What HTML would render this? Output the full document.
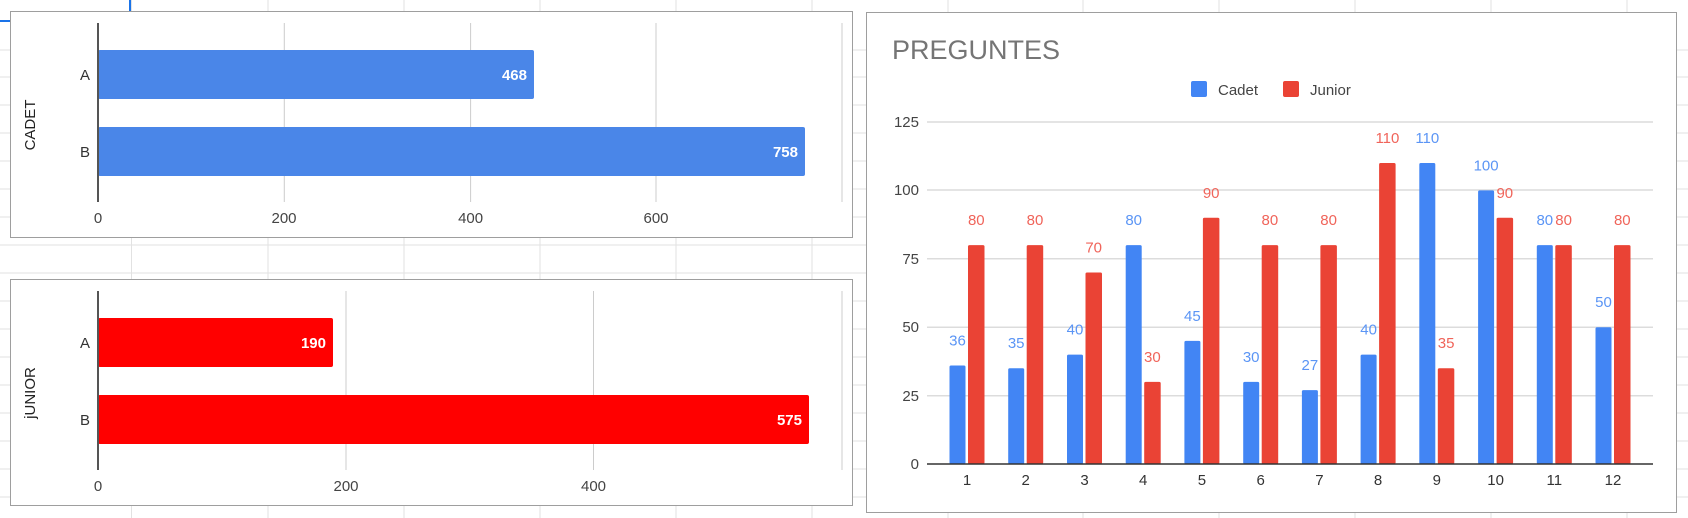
<!DOCTYPE html>
<html><head><meta charset="utf-8"><style>
html,body{margin:0;padding:0;background:#fff;}
svg{display:block;font-family:"Liberation Sans",Arial,sans-serif;}
</style></head><body>
<svg width="1688" height="518" viewBox="0 0 1688 518" xmlns="http://www.w3.org/2000/svg">
<g stroke="#e2e2e2" stroke-width="1">
<line x1="131.5" y1="0" x2="131.5" y2="518"/><line x1="268" y1="0" x2="268" y2="518"/><line x1="404" y1="0" x2="404" y2="518"/><line x1="540" y1="0" x2="540" y2="518"/><line x1="676" y1="0" x2="676" y2="518"/><line x1="812" y1="0" x2="812" y2="518"/>
<line x1="948" y1="0" x2="948" y2="518"/><line x1="1083" y1="0" x2="1083" y2="518"/><line x1="1219" y1="0" x2="1219" y2="518"/><line x1="1355" y1="0" x2="1355" y2="518"/><line x1="1491" y1="0" x2="1491" y2="518"/><line x1="1627" y1="0" x2="1627" y2="518"/>
<line x1="0" y1="50" x2="1688" y2="50"/><line x1="0" y1="77" x2="1688" y2="77"/><line x1="0" y1="105" x2="1688" y2="105"/><line x1="0" y1="133" x2="1688" y2="133"/><line x1="0" y1="161" x2="1688" y2="161"/><line x1="0" y1="189" x2="1688" y2="189"/><line x1="0" y1="217" x2="1688" y2="217"/><line x1="0" y1="245" x2="1688" y2="245"/><line x1="0" y1="273" x2="1688" y2="273"/><line x1="0" y1="301" x2="1688" y2="301"/><line x1="0" y1="329" x2="1688" y2="329"/><line x1="0" y1="357" x2="1688" y2="357"/><line x1="0" y1="385" x2="1688" y2="385"/><line x1="0" y1="413" x2="1688" y2="413"/><line x1="0" y1="441" x2="1688" y2="441"/><line x1="0" y1="469" x2="1688" y2="469"/><line x1="0" y1="497" x2="1688" y2="497"/>
</g>
<line x1="130" y1="0" x2="130" y2="11" stroke="#1a73e8" stroke-width="2"/>
<line x1="0" y1="21" x2="10" y2="21" stroke="#1a73e8" stroke-width="2"/>

<!-- CADET chart -->
<rect x="10.5" y="11.5" width="842" height="226" fill="#fff" stroke="#9e9e9e"/>
<g stroke="#cccccc"><line x1="284.3" y1="23" x2="284.3" y2="202"/><line x1="470.6" y1="23" x2="470.6" y2="202"/><line x1="656" y1="23" x2="656" y2="202"/><line x1="842" y1="23" x2="842" y2="202"/></g>
<rect x="98" y="50" width="436" height="49" rx="2" fill="#4a86e8"/>
<rect x="98" y="127" width="707" height="49" rx="2" fill="#4a86e8"/>
<line x1="98" y1="23" x2="98" y2="202" stroke="#555" stroke-width="2"/>
<g font-size="15" fill="#fff" font-weight="bold" text-anchor="end"><text x="527" y="80">468</text><text x="798" y="157">758</text></g>
<g font-size="15" fill="#333" text-anchor="end"><text x="90" y="80">A</text><text x="90" y="157">B</text></g>
<g font-size="15" fill="#444" text-anchor="middle"><text x="98" y="223">0</text><text x="284" y="223">200</text><text x="470.6" y="223">400</text><text x="656" y="223">600</text></g>
<text transform="translate(35,125) rotate(-90)" font-size="15" fill="#222" text-anchor="middle">CADET</text>

<!-- JUNIOR chart -->
<rect x="10.5" y="279.5" width="842" height="226" fill="#fff" stroke="#9e9e9e"/>
<g stroke="#cccccc"><line x1="346" y1="291" x2="346" y2="470"/><line x1="593.5" y1="291" x2="593.5" y2="470"/><line x1="842" y1="291" x2="842" y2="470"/></g>
<rect x="98" y="318" width="235" height="49" rx="2" fill="#ff0000"/>
<rect x="98" y="395" width="711" height="49" rx="2" fill="#ff0000"/>
<line x1="98" y1="291" x2="98" y2="470" stroke="#555" stroke-width="2"/>
<g font-size="15" fill="#fff" font-weight="bold" text-anchor="end"><text x="326" y="348">190</text><text x="802" y="425">575</text></g>
<g font-size="15" fill="#333" text-anchor="end"><text x="90" y="348">A</text><text x="90" y="425">B</text></g>
<g font-size="15" fill="#444" text-anchor="middle"><text x="98" y="491">0</text><text x="346" y="491">200</text><text x="593.5" y="491">400</text></g>
<text transform="translate(35,393) rotate(-90)" font-size="15" fill="#222" text-anchor="middle">jUNIOR</text>

<!-- PREGUNTES chart -->
<rect x="866.5" y="12.5" width="810" height="500" fill="#fff" stroke="#9e9e9e"/>
<text x="892" y="59" font-size="27" fill="#757575">PREGUNTES</text>
<rect x="1191" y="81" width="16" height="16" rx="2" fill="#4285f4"/>
<text x="1218" y="95" font-size="15" fill="#444">Cadet</text>
<rect x="1283" y="81" width="16" height="16" rx="2" fill="#ea4335"/>
<text x="1310" y="95" font-size="15" fill="#444">Junior</text>
<g stroke="#dcdcdc" stroke-width="1.5"><line x1="927" y1="122" x2="1653" y2="122"/><line x1="927" y1="190" x2="1653" y2="190"/><line x1="927" y1="258.7" x2="1653" y2="258.7"/><line x1="927" y1="327.3" x2="1653" y2="327.3"/><line x1="927" y1="395.7" x2="1653" y2="395.7"/></g>
<g font-size="15" fill="#444" text-anchor="end"><text x="919" y="127">125</text><text x="919" y="195">100</text><text x="919" y="264">75</text><text x="919" y="332">50</text><text x="919" y="401">25</text><text x="919" y="469">0</text></g>

<g fill="#4285f4">
<rect x="949.5" y="365.5" width="16" height="98.5" rx="1.5"/>
<rect x="1008.2" y="368.2" width="16" height="95.8" rx="1.5"/>
<rect x="1067" y="354.6" width="16" height="109.4" rx="1.5"/>
<rect x="1125.7" y="245.1" width="16" height="218.9" rx="1.5"/>
<rect x="1184.4" y="340.9" width="16" height="123.1" rx="1.5"/>
<rect x="1243.2" y="381.9" width="16" height="82.1" rx="1.5"/>
<rect x="1301.9" y="390.1" width="16" height="73.9" rx="1.5"/>
<rect x="1360.6" y="354.6" width="16" height="109.4" rx="1.5"/>
<rect x="1419.3" y="163" width="16" height="301" rx="1.5"/>
<rect x="1478.1" y="190.4" width="16" height="273.6" rx="1.5"/>
<rect x="1536.8" y="245.1" width="16" height="218.9" rx="1.5"/>
<rect x="1595.5" y="327.2" width="16" height="136.8" rx="1.5"/>
</g>
<g fill="#ea4335">
<rect x="968" y="245.1" width="16.5" height="218.9" rx="1.5"/>
<rect x="1026.7" y="245.1" width="16.5" height="218.9" rx="1.5"/>
<rect x="1085.5" y="272.5" width="16.5" height="191.5" rx="1.5"/>
<rect x="1144.2" y="381.9" width="16.5" height="82.1" rx="1.5"/>
<rect x="1202.9" y="217.8" width="16.5" height="246.2" rx="1.5"/>
<rect x="1261.7" y="245.1" width="16.5" height="218.9" rx="1.5"/>
<rect x="1320.4" y="245.1" width="16.5" height="218.9" rx="1.5"/>
<rect x="1379.1" y="163" width="16.5" height="301" rx="1.5"/>
<rect x="1437.8" y="368.2" width="16.5" height="95.8" rx="1.5"/>
<rect x="1496.6" y="217.8" width="16.5" height="246.2" rx="1.5"/>
<rect x="1555.3" y="245.1" width="16.5" height="218.9" rx="1.5"/>
<rect x="1614" y="245.1" width="16.5" height="218.9" rx="1.5"/>
</g>
<g font-size="15" fill="#5b95f5" text-anchor="middle">
<text x="957.5" y="345.5">36</text>
<text x="1016.2" y="348.2">35</text>
<text x="1075" y="334.6">40</text>
<text x="1133.7" y="225.1">80</text>
<text x="1192.4" y="320.9">45</text>
<text x="1251.2" y="361.9">30</text>
<text x="1309.9" y="370.1">27</text>
<text x="1368.6" y="334.6">40</text>
<text x="1427.3" y="143">110</text>
<text x="1486.1" y="170.4">100</text>
<text x="1544.8" y="225.1">80</text>
<text x="1603.5" y="307.2">50</text>
</g>
<g font-size="15" fill="#f0645a" text-anchor="middle">
<text x="976.3" y="225.1">80</text>
<text x="1035" y="225.1">80</text>
<text x="1093.7" y="252.5">70</text>
<text x="1152.4" y="361.9">30</text>
<text x="1211.2" y="197.8">90</text>
<text x="1269.9" y="225.1">80</text>
<text x="1328.6" y="225.1">80</text>
<text x="1387.4" y="143">110</text>
<text x="1446.1" y="348.2">35</text>
<text x="1504.8" y="197.8">90</text>
<text x="1563.6" y="225.1">80</text>
<text x="1622.3" y="225.1">80</text>
</g>
<g font-size="15" fill="#333" text-anchor="middle">
<text x="967" y="485">1</text><text x="1025.7" y="485">2</text><text x="1084.5" y="485">3</text><text x="1143.2" y="485">4</text><text x="1201.9" y="485">5</text><text x="1260.7" y="485">6</text><text x="1319.4" y="485">7</text><text x="1378.1" y="485">8</text><text x="1436.8" y="485">9</text><text x="1495.6" y="485">10</text><text x="1554.3" y="485">11</text><text x="1613" y="485">12</text>
</g>
<line x1="927" y1="464" x2="1653" y2="464" stroke="#333" stroke-width="1.5"/>
</svg>
</body></html>
